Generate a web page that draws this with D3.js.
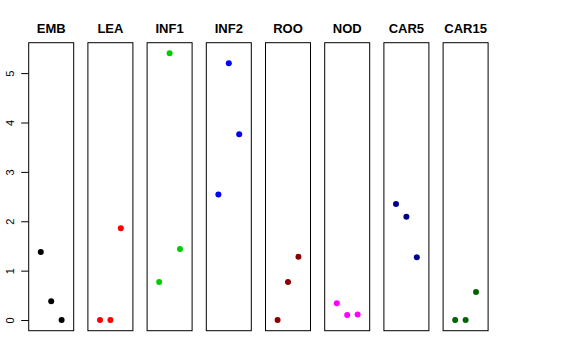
<!DOCTYPE html>
<html>
<head>
<meta charset="utf-8">
<script src="https://cdn.jsdelivr.net/npm/d3@7"></script>
<style>
  body { margin: 0; background: #fff; }
  text { font-family: "Liberation Sans", Arial, sans-serif; }
</style>
</head>
<body>
<div id="chart"></div>
<script>
// panel names, colours and values (3 points per panel at x = 1, 2, 3)
var panels = ["EMB", "LEA", "INF1", "INF2", "ROO", "NOD", "CAR5", "CAR15"];
var colors = ["#000000", "#FF0000", "#00CD00", "#0000FF", "#8B0000", "#FF00FF", "#00008B", "#006400"];
var EMB   = [1.38, 0.38, 0];
var LEA   = [0, 0, 1.86];
var INF1  = [0.77, 5.4, 1.44];
var INF2  = [2.54, 5.2, 3.76];
var ROO   = [0, 0.77, 1.28];
var NOD   = [0.34, 0.1, 0.11];
var CAR5  = [2.35, 2.09, 1.27];
var CAR15 = [0, 0, 0.57];
var values = [EMB, LEA, INF1, INF2, ROO, NOD, CAR5, CAR15];
var yTicks = [0, 1, 2, 3, 4, 5];

var width = 576, height = 360;
var panelLeft = 28.7, panelStep = 59.2, panelW = 45;
var plotTop = 42.7, plotBottom = 330.7;

var svg = d3.select("#chart").append("svg")
    .attr("width", width)
    .attr("height", height);

// shared y scale, R style 4% padding
var y = d3.scaleLinear()
    .domain([-0.216, 5.616])
    .range([plotBottom, plotTop]);

// x within each panel: xlim 0..4 with 4% padding
var x = d3.scaleLinear()
    .domain([-0.16, 4.16])
    .range([0, panelW]);

panels.forEach(function (name, i) {
    var g = svg.append("g")
        .attr("transform", "translate(" + (panelLeft + i * panelStep) + ",0)");

    g.append("rect")
        .attr("x", 0)
        .attr("y", plotTop)
        .attr("width", panelW)
        .attr("height", plotBottom - plotTop)
        .attr("fill", "none")
        .attr("stroke", "#000")
        .attr("stroke-width", 1);

    g.append("text")
        .attr("x", panelW / 2)
        .attr("y", 33)
        .attr("text-anchor", "middle")
        .style("font-size", "13px")
        .style("font-weight", "bold")
        .text(name);

    g.selectAll("circle")
        .data(values[i])
        .enter()
        .append("circle")
        .attr("cx", function (d, j) { return x(j + 1); })
        .attr("cy", function (d) { return y(d); })
        .attr("r", 3)
        .attr("fill", colors[i]);

    if (i === 0) {
        var yAxis = d3.axisLeft(y)
            .tickValues(yTicks)
            .tickSize(7.5)
            .tickPadding(4)
            .tickFormat(d3.format("d"));
        var gy = g.append("g").call(yAxis);
        gy.select(".domain").remove();
        gy.selectAll(".tick text")
            .style("font-size", "11px")
            .attr("text-anchor", "middle")
            .attr("x", 0)
            .attr("y", 0)
            .attr("dy", "0.35em")
            .attr("transform", "translate(-18.7,0) rotate(-90)");
    }
});
</script>
</body>
</html>
